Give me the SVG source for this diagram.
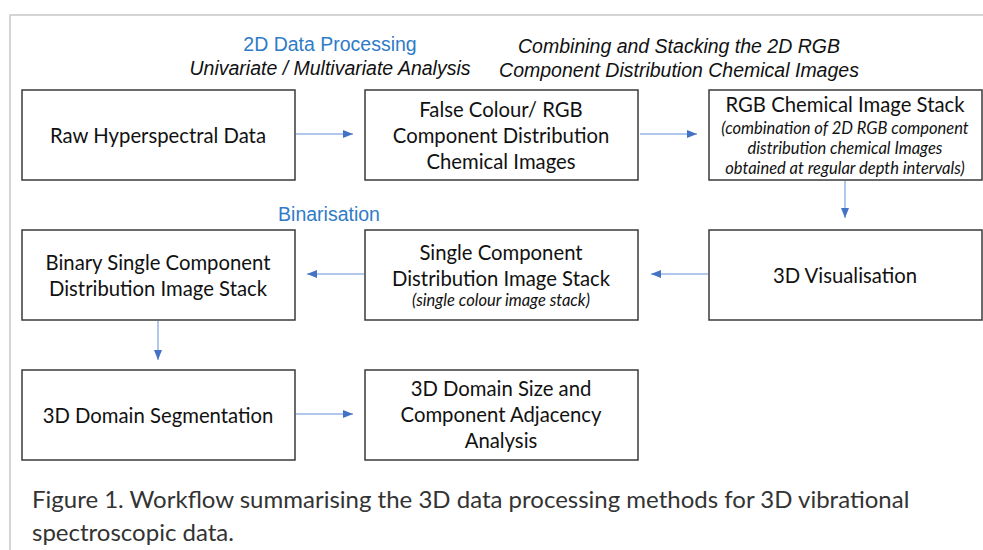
<svg xmlns="http://www.w3.org/2000/svg" width="983" height="550" viewBox="0 0 983 550">
<defs>
<marker id="ah" viewBox="0 0 10 10" refX="10" refY="5" markerWidth="10" markerHeight="10" markerUnits="userSpaceOnUse" orient="auto">
<path d="M0,1 L10,5 L0,9 Z" fill="#4472C4"/>
</marker>
<style>
.box{fill:#fff;stroke:#3a3a3a;stroke-width:1.5}
.t{font-family:Lato,"Open Sans",sans-serif;font-size:20.3px;fill:#111;text-anchor:middle}
.ti{font-family:Lato,"Open Sans",sans-serif;font-size:16.5px;font-style:italic;fill:#111;text-anchor:middle}
.hb{font-family:"Liberation Sans",Arial,sans-serif;font-size:19.5px;fill:#2F7BC8;text-anchor:middle}
.hi{font-family:"Liberation Sans",Arial,sans-serif;font-size:19.5px;font-style:italic;fill:#111;text-anchor:middle}
.cap{font-family:Lato,"Open Sans",sans-serif;font-size:24px;fill:#333}
.c{stroke:#94B6E4;stroke-width:1.5;fill:none;marker-end:url(#ah)}
</style>
</defs>
<rect width="983" height="550" fill="#fff"/>
<path d="M10,550 V15 H983" fill="none" stroke="#c8c8c8" stroke-width="1.5"/>
<text class="hb" x="330" y="51">2D Data Processing</text>
<text class="hi" x="330" y="75">Univariate / Multivariate Analysis</text>
<text class="hi" x="679" y="53">Combining and Stacking the 2D RGB</text>
<text class="hi" x="679" y="77">Component Distribution Chemical Images</text>
<text class="hb" x="329" y="221">Binarisation</text>
<g id="n1"><rect class="box" x="22" y="90" width="273" height="90"/><text class="t" x="158" y="143">Raw Hyperspectral Data</text></g>
<g id="n2"><rect class="box" x="365" y="90" width="273" height="90"/><text class="t" x="501" y="117">False Colour/ RGB</text><text class="t" x="501" y="143">Component Distribution</text><text class="t" x="501" y="169">Chemical Images</text></g>
<g id="n3"><rect class="box" x="709" y="90" width="273" height="90"/><text class="t" x="845" y="112">RGB Chemical Image Stack</text><text class="ti" x="845" y="134">(combination of 2D RGB component</text><text class="ti" x="845" y="154">distribution chemical Images</text><text class="ti" x="845" y="174">obtained at regular depth intervals)</text></g>
<g id="n4"><rect class="box" x="22" y="230" width="273" height="90"/><text class="t" x="158" y="270">Binary Single Component</text><text class="t" x="158" y="296">Distribution Image Stack</text></g>
<g id="n5"><rect class="box" x="365" y="230" width="273" height="90"/><text class="t" x="501" y="260">Single Component</text><text class="t" x="501" y="286">Distribution Image Stack</text><text class="ti" x="501" y="306">(single colour image stack)</text></g>
<g id="n6"><rect class="box" x="709" y="230" width="273" height="90"/><text class="t" x="845" y="283">3D Visualisation</text></g>
<g id="n7"><rect class="box" x="22" y="370" width="273" height="90"/><text class="t" x="158" y="423">3D Domain Segmentation</text></g>
<g id="n8"><rect class="box" x="365" y="370" width="273" height="90"/><text class="t" x="501" y="396">3D Domain Size and</text><text class="t" x="501" y="422">Component Adjacency</text><text class="t" x="501" y="448">Analysis</text></g>
<g id="connectors">
<path class="c" d="M296,134 H353"/>
<path class="c" d="M640,134 H697"/>
<path class="c" d="M845,181 V218"/>
<path class="c" d="M708,274 H651"/>
<path class="c" d="M364,274 H307"/>
<path class="c" d="M158,321 V360"/>
<path class="c" d="M296,414 H353"/>
</g>
<text class="cap" x="32" y="508">Figure 1. Workflow summarising the 3D data processing methods for 3D vibrational</text>
<text class="cap" x="32" y="541">spectroscopic data.</text>
</svg>
